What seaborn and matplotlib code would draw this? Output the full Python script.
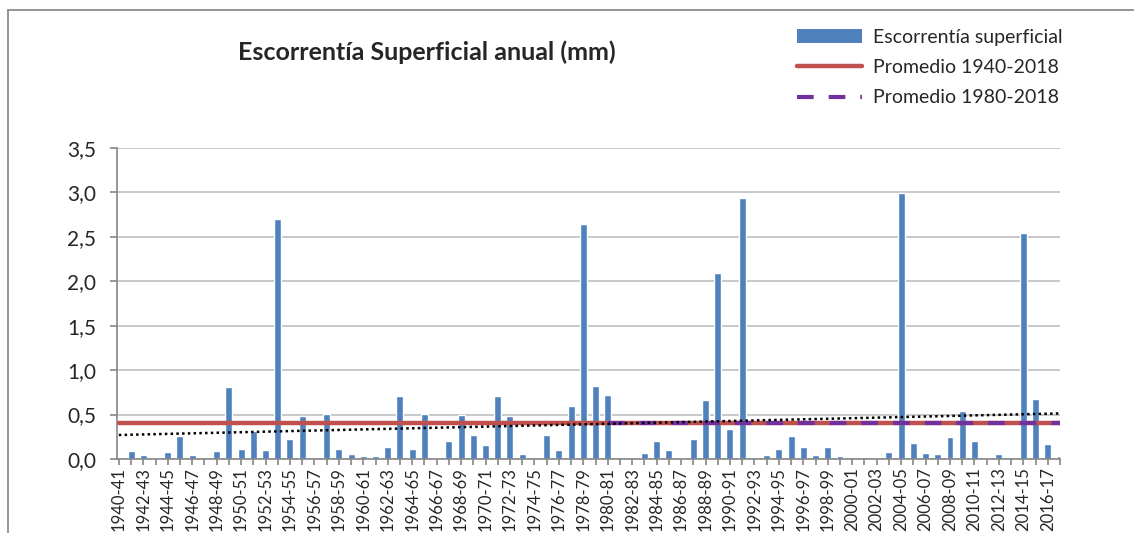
import numpy as np
import pandas as pd
import matplotlib
matplotlib.use("Agg")
import matplotlib.pyplot as plt
from matplotlib.ticker import FuncFormatter, MultipleLocator
from matplotlib.lines import Line2D
from matplotlib.patches import Patch
import seaborn as sns

# Hydrological years 1940-41 ... 2017-18
periodos = [f"{y}-{str(y + 1)[-2:]}" for y in range(1940, 2018)]

# Annual surface runoff (mm)
escorrentia = [
    0.02, 0.09, 0.05, 0.015, 0.075, 0.26, 0.045, 0.0, 0.086, 0.81,
    0.11, 0.31, 0.10, 2.70, 0.23, 0.485, 0.0, 0.51, 0.11, 0.056,
    0.034, 0.034, 0.135, 0.71, 0.11, 0.51, 0.015, 0.20, 0.50, 0.27,
    0.154, 0.71, 0.485, 0.056, 0.0, 0.27, 0.10, 0.60, 2.65, 0.82,
    0.72, 0.023, 0.0, 0.064, 0.207, 0.098, 0.015, 0.226, 0.665, 2.09,
    0.34, 2.94, 0.023, 0.045, 0.11, 0.256, 0.135, 0.045, 0.135, 0.034,
    0.023, 0.023, 0.015, 0.075, 2.99, 0.177, 0.064, 0.056, 0.248, 0.54,
    0.207, 0.015, 0.056, 0.026, 2.54, 0.68, 0.165, 0.038,
]

# Long-term averages (mm)
promedio_1940_2018 = 0.40
promedio_1980_2018 = 0.41
inicio_1980 = periodos.index("1980-81")

df = pd.DataFrame({"periodo": periodos, "escorrentia": escorrentia})

sns.set_style("white")
plt.rcParams["font.family"] = ["Lato", "DejaVu Sans"]

W, H = 1134, 533
fig = plt.figure(figsize=(W / 100, H / 100), dpi=100)
ax = fig.add_axes([117 / W, 1 - 459 / H, (1060 - 117) / W, (459 - 148) / H])

AZUL = "#4F81BD"
ROJO = "#C0504D"
MORADO = "#7030A0"
GRIS = "#868686"
GUIONES = (4.0, 3.6)

sns.barplot(data=df, x="periodo", y="escorrentia", color=AZUL, saturation=1,
            width=0.57, ax=ax, zorder=2)

pos = np.arange(len(periodos))
ax.plot(pos, np.full(len(pos), promedio_1940_2018), color=ROJO, lw=3.2,
        solid_capstyle="round", zorder=3)
ax.plot(pos[inicio_1980:], np.full(len(pos) - inicio_1980, promedio_1980_2018),
        color=MORADO, lw=3.0, dashes=GUIONES, zorder=4)

# Linear trend of the whole series
sns.regplot(x=pos, y=np.array(escorrentia), scatter=False, ci=None, truncate=True,
            ax=ax, line_kws=dict(color="black", lw=1.8, ls=(0, (1, 1.3)), zorder=5))

ax.set_xlim(-0.15, len(pos) - 1)
ax.set_ylim(0, 3.5)
ax.yaxis.set_major_locator(MultipleLocator(0.5))
ax.yaxis.set_major_formatter(FuncFormatter(lambda v, _: f"{v:.1f}".replace(".", ",")))
ax.set_xticks(pos)
ax.set_xticklabels([p if i % 2 == 0 else "" for i, p in enumerate(periodos)],
                   rotation=90, fontsize=12)
ax.set_xlabel("")
ax.set_ylabel("")

ax.grid(axis="y", color="#BFBFBF", lw=1.2, zorder=0)
ax.set_axisbelow(True)
for s in ("top", "right"):
    ax.spines[s].set_visible(False)
for s in ("left", "bottom"):
    ax.spines[s].set_color(GRIS)
    ax.spines[s].set_linewidth(1.2)
ax.tick_params(axis="y", which="major", length=5, width=1.2, color=GRIS,
               pad=10, labelsize=15, left=True)
ax.tick_params(axis="x", which="major", length=4, width=1.2, color=GRIS,
               pad=2, bottom=True)

fig.text(427 / W, 1 - 52 / H, "Escorrentía Superficial anual (mm)",
         ha="center", va="center", fontsize=18, fontweight="bold")

handles = [
    Patch(facecolor=AZUL, edgecolor="none"),
    Line2D([], [], color=ROJO, lw=3.2, solid_capstyle="round"),
    Line2D([], [], color=MORADO, lw=3.0, dashes=GUIONES),
]
labels = ["Escorrentía superficial", "Promedio 1940-2018", "Promedio 1980-2018"]
fig.legend(handles, labels, loc="upper left", bbox_to_anchor=(797 / W, 1 - 29 / H),
           frameon=False, fontsize=14, handlelength=3.35, handletextpad=0.55,
           labelspacing=0.68, borderpad=0, borderaxespad=0)

# Chart frame
fig.add_artist(Line2D([8 / W, 8 / W], [0, 1 - 10 / H], transform=fig.transFigure,
                      color="#8C8C8C", lw=1.3))
fig.add_artist(Line2D([8 / W, 1], [1 - 10 / H, 1 - 10 / H], transform=fig.transFigure,
                      color="#8C8C8C", lw=1.3))

fig.savefig("out.png", dpi=100, facecolor="white")
